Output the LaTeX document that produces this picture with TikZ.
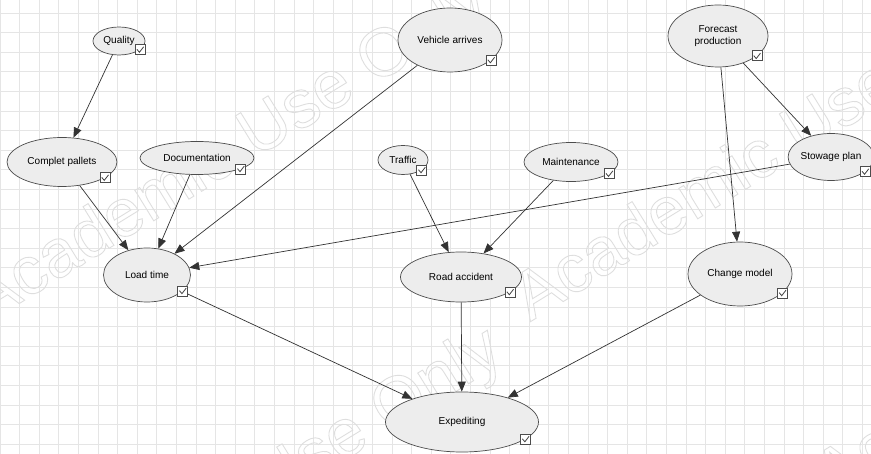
\documentclass[tikz,border=0pt]{standalone}
\usepackage{fontspec}
\setmainfont{Liberation Sans}
\usetikzlibrary{shapes.geometric, arrows.meta}
\tikzset{
    var/.style={draw=black!70, ellipse, fill=black!7, inner sep=0pt, align=center,
        font=\fontsize{5.7}{6.6}\selectfont},
    link/.style={draw=black!80, -{Triangle[length=2mm,width=1.6mm]}},
    chk/.style={draw=black!70, fill=white, rectangle, minimum size=2mm, inner sep=0pt,
        path picture={\draw[black!75, line width=0.45pt]
            ([xshift=0.35mm,yshift=1.05mm]path picture bounding box.south west) --
            ([xshift=0.85mm,yshift=0.45mm]path picture bounding box.south west) --
            ([xshift=1.7mm,yshift=1.55mm]path picture bounding box.south west);}},
    gridline/.style={draw=black!10, line width=0.4pt},
    mark text/.style={text=black!13, font=\fontsize{38.5}{40}\selectfont, inner sep=0pt,
        rotate=31.6, anchor=base west}
}
% outlined letters for the watermark
\newcommand\outlined[1]{\special{pdf:literal direct 1 Tr}#1\special{pdf:literal direct 0 Tr}}

\begin{document}
\begin{tikzpicture}[x=0.2mm, y=-0.2mm]

    \fill[white] (0,0) rectangle (871,454);
    \useasboundingbox (0,0) rectangle (871,454);

    % grid
    \foreach \i in {0,...,44}
        \draw[gridline] (\i*19.6,0) -- (\i*19.6,454);
    \foreach \j in {0,...,22}
        \draw[gridline] (0,13+\j*19.6) -- (871,13+\j*19.6);

    % watermark
    \begin{scope}[line width=0.5pt]
        \clip (0,0) rectangle (871,454);
        \node[mark text] (wm1) at (-14,324) {\outlined{Academic Use Only}};
        \node[mark text] (wm2) at (530,322) {\outlined{Academic Use Only}};
        \node[mark text] (wm3) at (0,672) {\outlined{Academic Use Only}};
        \node[mark text] (wm4) at (832,500) {\outlined{Academic Use Only}};
    \end{scope}

    \node[var, minimum width=10.4mm, minimum height=5.6mm] (quality) at (119,41) {Quality};
    \node[var, minimum width=20.8mm, minimum height=12.8mm] (vehicle) at (450,40) {Vehicle arrives};
    \node[var, minimum width=20mm, minimum height=12.4mm] (forecast) at (718,36) {Forecast\\production};
    \node[var, minimum width=22mm, minimum height=9.8mm] (pallets) at (62,162) {Complet pallets};
    \node[var, minimum width=22.8mm, minimum height=6.6mm] (docs) at (197,158) {Documentation};
    \node[var, minimum width=10mm, minimum height=5.8mm] (traffic) at (403,160) {Traffic};
    \node[var, minimum width=18.8mm, minimum height=7.8mm] (maint) at (571,162) {Maintenance};
    \node[var, minimum width=15.4mm, minimum height=9.4mm] (stowage) at (831,157) {Stowage plan};
    \node[var, minimum width=17.4mm, minimum height=10.8mm] (load) at (147,275) {Load time};
    \node[var, minimum width=24.2mm, minimum height=10mm] (accident) at (461,277) {Road accident};
    \node[var, minimum width=20.8mm, minimum height=12.8mm] (change) at (740,274) {Change model};
    \node[var, minimum width=30.6mm, minimum height=12mm] (expedite) at (462,422) {Expediting};

    \draw[link] (quality) -- (pallets);
    \draw[link] (pallets) -- (load);
    \draw[link] (docs) -- (load);
    \draw[link] (vehicle) -- (load);
    \draw[link] (stowage) -- (load);
    \draw[link] (forecast) -- (stowage);
    \draw[link] (forecast) -- (change);
    \draw[link] (traffic) -- (accident);
    \draw[link] (maint) -- (accident);
    \draw[link] (load) -- (expedite);
    \draw[link] (accident) -- (expedite);
    \draw[link] (change) -- (expedite);

    % check boxes
    \foreach \n/\a in {quality/-22, vehicle/-26, forecast/-27, pallets/-20, docs/-14, traffic/-28,
                       maint/-17, stowage/-23, load/-24, accident/-17, change/-24, expedite/-15}
        \node[chk] (\n-chk) at (\n.\a) {};
\end{tikzpicture}
\end{document}
